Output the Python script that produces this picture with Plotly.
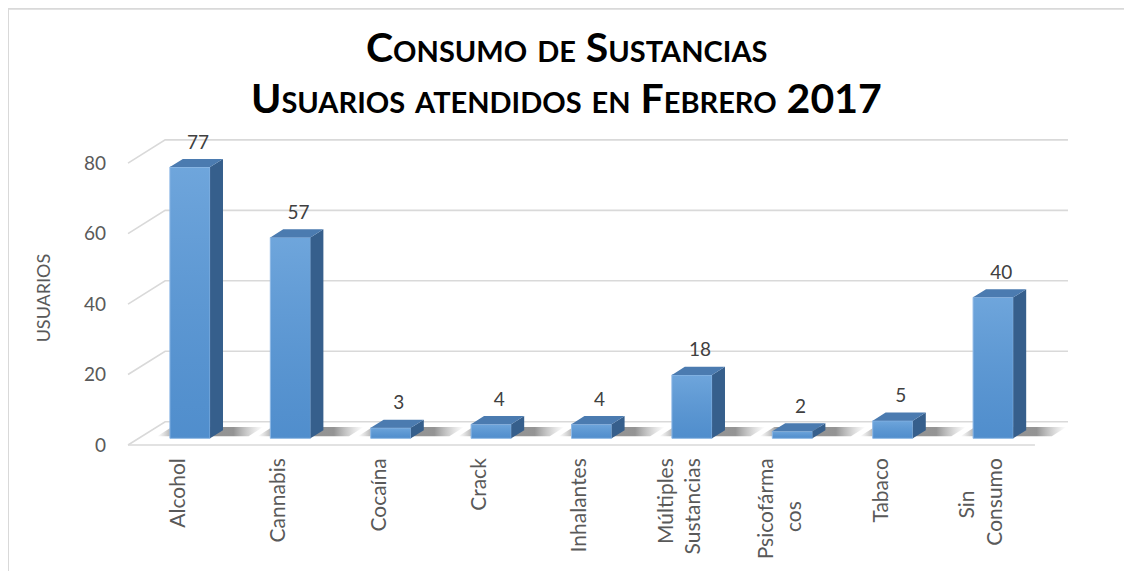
import plotly.graph_objects as go

# Datos
NB = "\u00a0"
categorias = ["Alcohol", "Cannabis", "Cocaína", "Crack", "Inhalantes",
              "Múltiples<br>Sustancias", "Psicofárma<br>cos" + NB * 8, "Tabaco",
              "Sin" + NB * 6 + "<br>Consumo"]
usuarios = [77, 57, 3, 4, 4, 18, 2, 5, 40]
ticks_y = [0, 20, 40, 60, 80]

titulo_1 = "Consumo de Sustancias"
titulo_2 = "Usuarios atendidos en Febrero 2017"
titulo_y = "USUARIOS"

# Geometria del efecto 3D (en unidades de datos)
K = 0.056            # desplazamiento x por unidad y de profundidad
ANCHO = 0.4          # ancho de la cara frontal
PROF_Y = 2.3         # profundidad de la barra
PROF_X = PROF_Y * K
FRENTE_Y = -1.9      # borde frontal del piso
FONDO_Y = 4.7        # pared del fondo
PARED_X = -0.617     # esquina frontal izquierda
PISO_FIN_X = 8.416
FONDO_FIN_X = 8.745

FUENTE = "Lato"
GRIS = "#d9d9d9"

idx = list(range(len(categorias)))
fig = go.Figure()

# Piso
piso_x = [PARED_X, PISO_FIN_X, FONDO_FIN_X, PARED_X + (FONDO_Y - FRENTE_Y) * K, PARED_X]
piso_y = [FRENTE_Y, FRENTE_Y, FONDO_Y, FONDO_Y, FRENTE_Y]
fig.add_trace(go.Scatter(x=piso_x, y=piso_y, fill="toself", fillcolor="white",
                         mode="none", hoverinfo="skip", zorder=0))

# Lineas de cuadricula (pared izquierda + fondo)
gx, gy = [], []
for v in ticks_y:
    x0 = PARED_X
    x1 = PARED_X + (FONDO_Y - FRENTE_Y) * K
    gx += [x0, x1, FONDO_FIN_X, None]
    gy += [v + FRENTE_Y, v + FONDO_Y, v + FONDO_Y, None]
gx += [PARED_X, PISO_FIN_X, None]
gy += [FRENTE_Y, FRENTE_Y, None]
fig.add_trace(go.Scatter(x=gx, y=gy, mode="lines", line=dict(color=GRIS, width=1.6),
                         hoverinfo="skip", zorder=0))

# Sombras en el piso
for i in idx:
    sx0, sx1 = i - 0.36, i + 0.55
    y0, y1 = 0.6, 3.2
    fig.add_trace(go.Scatter(
        x=[sx0 + y0 * K, sx1 + y0 * K, sx1 + y1 * K, sx0 + y1 * K, sx0 + y0 * K],
        y=[y0, y0, y1, y1, y0],
        fill="toself", mode="none", hoverinfo="skip", zorder=0,
        fillgradient=dict(type="horizontal", colorscale=[
            [0, "rgba(110,110,110,0)"], [0.17, "rgba(60,60,60,0.55)"],
            [0.72, "rgba(60,60,60,0.55)"], [1, "rgba(110,110,110,0)"]]),
    ))

# Cara frontal de las barras
fig.add_trace(go.Bar(x=idx, y=usuarios, width=ANCHO, zorder=1,
                     marker=dict(color="#5797d6", line=dict(color="#8fb9e6", width=1)),
                     hoverinfo="skip"))

# Brillo degradado sobre la cara frontal
for i, v in zip(idx, usuarios):
    l, r = i - ANCHO / 2 + 0.005, i + ANCHO / 2 - 0.005
    fig.add_trace(go.Scatter(
        x=[l, r, r, l, l], y=[0, 0, v, v, 0], fill="toself", mode="none",
        hoverinfo="skip", zorder=1,
        fillgradient=dict(type="vertical", colorscale=[
            [0, "rgba(20,60,120,0.10)"], [1, "rgba(255,255,255,0.14)"]]),
    ))

# Caras laterales y superiores
lx, ly, tx, ty = [], [], [], []
for i, v in zip(idx, usuarios):
    r = i + ANCHO / 2
    l = i - ANCHO / 2
    lx += [r, r + PROF_X, r + PROF_X, r, r, None]
    ly += [0, PROF_Y, v + PROF_Y, v, 0, None]
    tx += [l, r, r + PROF_X, l + PROF_X, l, None]
    ty += [v, v, v + PROF_Y, v + PROF_Y, v, None]
fig.add_trace(go.Scatter(x=lx, y=ly, fill="toself", fillcolor="#365f8c",
                         mode="none", hoverinfo="skip", zorder=2))
fig.add_trace(go.Scatter(x=tx, y=ty, fill="toself", fillcolor="#4b7bb0",
                         mode="none", hoverinfo="skip", zorder=2))

# Etiquetas de datos
fig.add_trace(go.Scatter(x=[i + 0.08 for i in idx], y=[v + PROF_Y + 1.6 for v in usuarios],
                         text=[str(v) for v in usuarios], mode="text",
                         textposition="top center",
                         textfont=dict(family=FUENTE, size=19, color="#404040"),
                         hoverinfo="skip", zorder=3))

# Ejes
fig.update_xaxes(range=[-0.697, 8.815], tickvals=[i - 0.12 for i in idx],
                 ticktext=categorias, tickangle=-90, showgrid=False, zeroline=False,
                 showline=False, ticks="",
                 tickfont=dict(family=FUENTE, size=21, color="#595959"))
fig.update_yaxes(range=[-4.167, 87.5], tickvals=[v + FRENTE_Y for v in ticks_y],
                 ticktext=[str(v) for v in ticks_y], showgrid=False, zeroline=False,
                 showline=False, ticks="", ticklabelstandoff=13,
                 tickfont=dict(family=FUENTE, size=19, color="#595959"))

# Titulos
fig.add_annotation(text=titulo_1, xref="paper", yref="paper", x=0.468, y=1.2576,
                   showarrow=False, xanchor="center", yanchor="middle",
                   font=dict(family=FUENTE, size=41, color="black",
                             weight="bold", variant="small-caps"))
fig.add_annotation(text=titulo_2, xref="paper", yref="paper", x=0.468, y=1.1015,
                   showarrow=False, xanchor="center", yanchor="middle",
                   font=dict(family=FUENTE, size=41, color="black",
                             weight="bold", variant="small-caps"))
fig.add_annotation(text=titulo_y, xref="paper", yref="paper", x=-0.0806, y=0.4788,
                   showarrow=False, textangle=-90, xanchor="center", yanchor="middle",
                   font=dict(family=FUENTE, size=18, color="#595959"))

# Borde del area del grafico
fig.add_shape(type="rect", xref="paper", yref="paper",
              x0=(8 - 120) / 955, x1=1.2, y0=-0.5, y1=(460 - 6) / 330,
              line=dict(color=GRIS, width=2), fillcolor="rgba(0,0,0,0)")

# La pagina tiene 8px de margen en el body
fig.update_layout(width=1124, height=563, showlegend=False,
                  margin=dict(l=112, r=57, t=122, b=111),
                  plot_bgcolor="white", paper_bgcolor="white")

fig.write_html("out.html")
